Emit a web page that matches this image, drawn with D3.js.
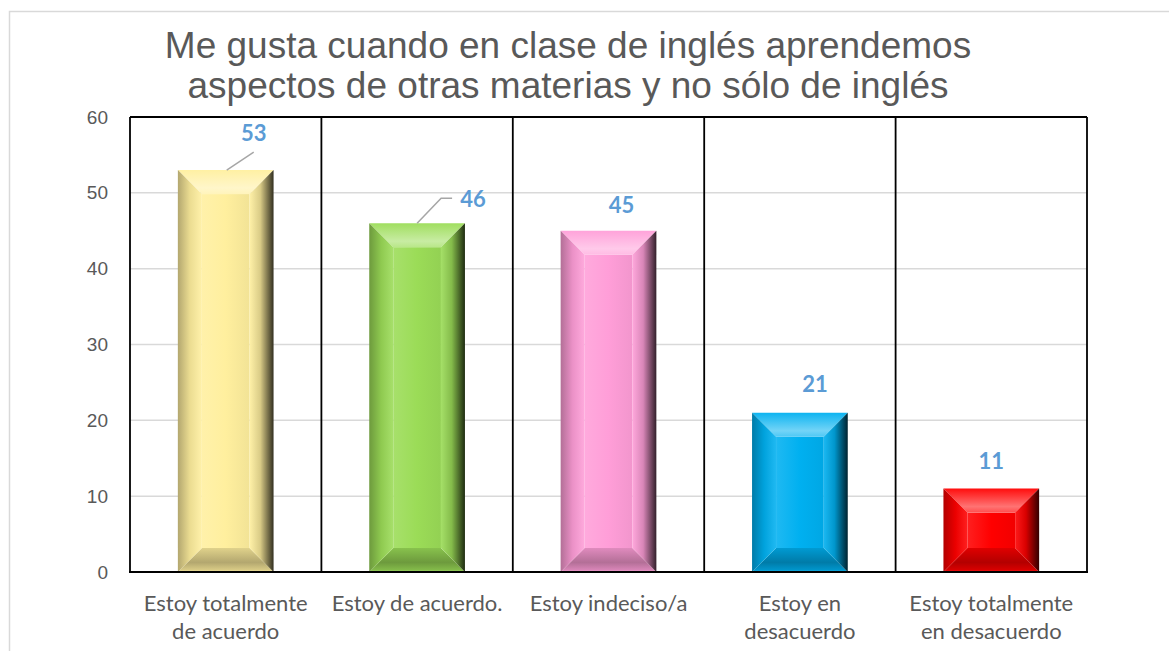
<!DOCTYPE html>
<html>
<head>
<meta charset="utf-8">
<script src="https://cdnjs.cloudflare.com/ajax/libs/d3/7.8.5/d3.min.js"></script>
<style>
  html, body { margin: 0; padding: 0; background: #fff; }
  svg { display: block; }
</style>
</head>
<body>
<svg id="chart" width="1169" height="651"></svg>
<script>
// Survey answers and counts
const categories = [
  ["Estoy totalmente", "de acuerdo"],
  ["Estoy de acuerdo."],
  ["Estoy indeciso/a"],
  ["Estoy en", "desacuerdo"],
  ["Estoy totalmente", "en desacuerdo"]
];
const values = [53, 46, 45, 21, 11];
const yTicks = [0, 10, 20, 30, 40, 50, 60];
const titleLines = [
  "Me gusta cuando en clase de inglés aprendemos",
  "aspectos de otras materias y no sólo de inglés"
];

// Fill of each bar
const barColors = ["#FFEF9E", "#9BDC57", "#FF9ED8", "#00B0F0", "#FF0000"];
// Value label centre, relative to the top-centre of its bar (pixels)
const labelPos = [
  {dx: 28, dy: -37}, {dx: 56, dy: -24}, {dx: 13, dy: -26}, {dx: 15, dy: -29}, {dx: 0, dy: -28}
];

const svg = d3.select("#chart");
const m = {left: 130, top: 117, right: 1087, bottom: 572};

// Outer chart frame
svg.append("rect")
  .attr("x", 9.5).attr("y", 11.5)
  .attr("width", 1300).attr("height", 800)
  .attr("fill", "#fff").attr("stroke", "#D9D9D9").attr("stroke-width", 1.5);

const x = d3.scaleBand()
  .domain(d3.range(categories.length))
  .range([m.left, m.right])
  .paddingInner(0).paddingOuter(0);
const barW = x.bandwidth() * 0.5;
const y = d3.scaleLinear().domain([0, 60]).range([m.bottom, m.top]);

// Title
svg.append("g").selectAll("text")
  .data(titleLines).join("text")
  .attr("x", 568).attr("y", (d, i) => 58 + i * 40)
  .attr("text-anchor", "middle")
  .attr("font-family", "Liberation Sans, Arial, sans-serif")
  .attr("font-size", 37)
  .attr("fill", "#595959")
  .text(d => d);

// Horizontal gridlines
svg.append("g")
  .selectAll("line")
  .data(yTicks.filter(t => t > 0 && t < 60)).join("line")
  .attr("x1", m.left).attr("x2", m.right)
  .attr("y1", d => y(d)).attr("y2", d => y(d))
  .attr("stroke", "#D9D9D9").attr("stroke-width", 1.5);

// Y axis labels
const yAxis = d3.axisLeft(y).tickValues(yTicks).tickSize(0).tickPadding(0);
const gy = svg.append("g").attr("transform", `translate(${m.left - 22},0)`).call(yAxis);
gy.select(".domain").remove();
gy.selectAll("text")
  .attr("font-family", "Liberation Sans, Arial, sans-serif")
  .attr("font-size", 19)
  .attr("fill", "#595959");

// Gradients for bevelled bars
const defs = svg.append("defs");
function mix(a, b, t) { return d3.interpolateRgb(a, b)(t); }
barColors.forEach((c, i) => {
  const g = (id, x1, y1, x2, y2, stops) => {
    const lg = defs.append("linearGradient").attr("id", id + i)
      .attr("x1", x1).attr("y1", y1).attr("x2", x2).attr("y2", y2);
    stops.forEach(([o, col]) => lg.append("stop").attr("offset", o).attr("stop-color", col));
  };
  g("top", 0, 0, 0, 1, [[0, mix(c, "#fff", 0.05)], [0.75, mix(c, "#fff", 0.45)], [1, mix(c, "#fff", 0.3)]]);
  g("left", 0, 0, 1, 0, [[0, mix(c, "#000", 0.3)], [0.5, mix(c, "#000", 0.08)], [1, mix(c, "#fff", 0.12)]]);
  g("right", 0, 0, 1, 0, [[0, mix(c, "#fff", 0.1)], [0.45, mix(c, "#000", 0.15)], [1, mix(c, "#000", 0.8)]]);
  g("bottom", 0, 0, 0, 1, [[0, mix(c, "#000", 0.12)], [0.6, mix(c, "#000", 0.3)], [0.92, mix(c, "#000", 0.15)], [1, mix(c, "#fff", 0.2)]]);
  g("face", 0, 0, 1, 0, [[0, mix(c, "#fff", 0.12)], [0.5, c], [1, mix(c, "#000", 0.05)]]);
});

// Bars
const bars = svg.append("g").selectAll("g")
  .data(values).join("g");
bars.each(function(v, i) {
  const g = d3.select(this);
  const x0 = x(i) + (x.bandwidth() - barW) / 2, w = barW;
  const x1 = x0 + w;
  const yt = y(v), yb = y(0);
  const b = Math.min(24, (yb - yt) / 2, w / 2);
  const poly = pts => pts.map(p => p.join(",")).join(" ");
  g.append("rect").attr("x", x0 + b).attr("y", yt + b)
    .attr("width", w - 2 * b).attr("height", Math.max(0, yb - yt - 2 * b))
    .attr("fill", `url(#face${i})`);
  g.append("polygon").attr("points", poly([[x0, yt], [x1, yt], [x1 - b, yt + b], [x0 + b, yt + b]]))
    .attr("fill", `url(#top${i})`);
  g.append("polygon").attr("points", poly([[x0, yb], [x1, yb], [x1 - b, yb - b], [x0 + b, yb - b]]))
    .attr("fill", `url(#bottom${i})`);
  g.append("polygon").attr("points", poly([[x0, yt], [x0 + b, yt + b], [x0 + b, yb - b], [x0, yb]]))
    .attr("fill", `url(#left${i})`);
  g.append("polygon").attr("points", poly([[x1, yt], [x1 - b, yt + b], [x1 - b, yb - b], [x1, yb]]))
    .attr("fill", `url(#right${i})`);
});

// Plot frame and category separators
svg.append("g").selectAll("line")
  .data(d3.range(categories.length + 1)).join("line")
  .attr("x1", d => m.left + d * x.bandwidth()).attr("x2", d => m.left + d * x.bandwidth())
  .attr("y1", m.top).attr("y2", m.bottom)
  .attr("stroke", "#000").attr("stroke-width", 1.8);
svg.append("line").attr("x1", m.left).attr("x2", m.right).attr("y1", m.top).attr("y2", m.top)
  .attr("stroke", "#000").attr("stroke-width", 1.8);
svg.append("line").attr("x1", m.left - 1).attr("x2", m.right + 1).attr("y1", m.bottom).attr("y2", m.bottom)
  .attr("stroke", "#000").attr("stroke-width", 2);

// Value labels, with leader lines for the two that sit away from their bars
const lbl = svg.append("g");
values.forEach((v, i) => {
  const cx = x(i) + x.bandwidth() / 2;
  const yt = y(v);
  const p = labelPos[i];
  if (i === 0) {
    lbl.append("polyline")
      .attr("points", `${cx + 1},${yt} ${cx + 28},${yt - 18}`)
      .attr("fill", "none").attr("stroke", "#A6A6A6").attr("stroke-width", 1.5);
  } else if (i === 1) {
    lbl.append("polyline")
      .attr("points", `${cx},${yt} ${cx + 24},${yt - 25} ${cx + 35},${yt - 25}`)
      .attr("fill", "none").attr("stroke", "#A6A6A6").attr("stroke-width", 1.5);
  }
  lbl.append("text")
    .attr("x", cx + p.dx).attr("y", yt + p.dy)
    .attr("dy", "0.36em")
    .attr("text-anchor", "middle")
    .attr("font-family", "Lato, Carlito, Calibri, sans-serif")
    .attr("font-weight", "bold")
    .attr("font-size", 22)
    .attr("fill", "#5B9BD5")
    .text(v);
});

// Category labels
const cat = svg.append("g");
categories.forEach((lines, i) => {
  const cx = x(i) + x.bandwidth() / 2;
  cat.append("text")
    .attr("text-anchor", "middle")
    .attr("font-family", "Lato, Carlito, Calibri, sans-serif")
    .attr("font-size", 22)
    .attr("fill", "#595959")
    .selectAll("tspan").data(lines).join("tspan")
    .attr("x", cx).attr("y", (d, k) => 611 + k * 28)
    .text(d => d);
});
</script>
</body>
</html>
